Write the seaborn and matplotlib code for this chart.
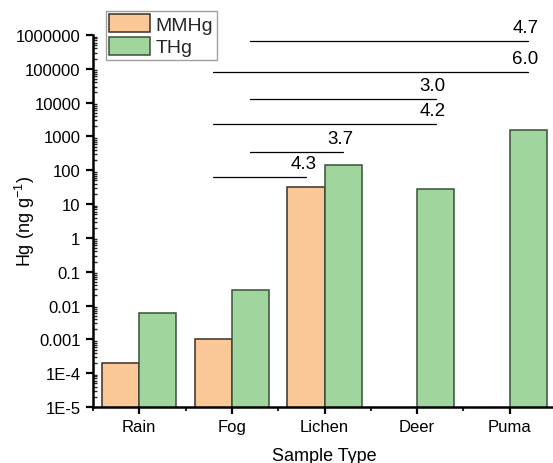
import numpy as np
import pandas as pd
import matplotlib
matplotlib.use('Agg')
import matplotlib.pyplot as plt
import seaborn as sns
from matplotlib.patches import Patch
from matplotlib.ticker import FixedLocator, LogLocator, NullFormatter

# data
samples = ['Rain', 'Fog', 'Lichen', 'Deer', 'Puma']
mmhg = [2.0e-4, 1.0e-3, 31, np.nan, np.nan]
thg = [5.9e-3, 0.029, 142, 28, 1560]
species = ['MMHg', 'THg']
bar_colors = ['#FAC896', '#A0D69E']
edge_colors = ['#3a3026', '#38503a']

ytick_vals = [1e-5, 1e-4, 1e-3, 1e-2, 1e-1, 1, 10, 100, 1000, 1e4, 1e5, 1e6]
ytick_labels = ['1E-5', '1E-4', '0.001', '0.01', '0.1', '1', '10', '100',
                '1000', '10000', '100000', '1000000']

# comparison brackets: (from sample, from species, to sample, to species, height, label)
br_from = [('Fog', 'THg'), ('Fog', 'MMHg'), ('Fog', 'THg'),
           ('Fog', 'MMHg'), ('Fog', 'THg'), ('Fog', 'MMHg')]
br_to = [('Puma', 'THg'), ('Puma', 'THg'), ('Deer', 'THg'),
         ('Deer', 'THg'), ('Lichen', 'THg'), ('Lichen', 'MMHg')]
br_y = [6.8e5, 8.0e4, 1.28e4, 2.3e3, 340, 62]
br_text = ['4.7', '6.0', '3.0', '4.2', '3.7', '4.3']

df = pd.DataFrame({
    'Sample': samples * 2,
    'Species': ['MMHg'] * len(samples) + ['THg'] * len(samples),
    'Hg': mmhg + thg,
}).dropna()

sns.set_theme(style='ticks')
plt.rcParams['font.family'] = ['Liberation Sans', 'DejaVu Sans']
plt.rcParams['mathtext.default'] = 'regular'

fig = plt.figure(figsize=(5.53, 4.64), dpi=100)
ax = fig.add_axes([93 / 553, 56 / 464, 463 / 553, 372 / 464])

sns.barplot(data=df, x='Sample', y='Hg', hue='Species', order=samples,
            hue_order=species, palette=bar_colors, saturation=1,
            errorbar=None, width=0.8, linewidth=1.1, ax=ax, legend=False)

for cont, ec in zip(ax.containers, edge_colors):
    for bar in cont:
        bar.set_edgecolor(ec)

ax.set_yscale('log')
ax.set_ylim(1e-5, 1e6)
ax.set_xlim(-0.5, 4.5)

ax.yaxis.set_major_locator(FixedLocator(ytick_vals))
ax.set_yticklabels(ytick_labels)
ax.yaxis.set_minor_locator(LogLocator(base=10, subs=np.arange(2, 10), numticks=50))
ax.yaxis.set_minor_formatter(NullFormatter())
ax.xaxis.set_minor_locator(FixedLocator([-0.5, 0.5, 1.5, 2.5, 3.5, 4.5]))

ax.tick_params(axis='both', which='major', labelsize=12, colors='black',
               width=1.6, length=5, pad=4, direction='out')
ax.tick_params(axis='y', which='minor', direction='in', length=3, width=1)
ax.tick_params(axis='x', which='minor', direction='out', length=3, width=1.5)

sns.despine(ax=ax)
for s in ['left', 'bottom']:
    ax.spines[s].set_linewidth(1.8)
    ax.spines[s].set_color('black')

ax.set_xlabel('Sample Type', fontsize=13, color='black', labelpad=9)
ax.set_ylabel('Hg (ng g$^{-1}$)', fontsize=13, color='black')
ax.yaxis.set_label_coords(-0.122, 0.5)


def bar_x(sample, sp):
    return samples.index(sample) + (-0.2 if sp == 'MMHg' else 0.2)


for f, t, y, lab in zip(br_from, br_to, br_y, br_text):
    x0, x1 = bar_x(*f), bar_x(*t)
    ax.plot([x0, x1], [y, y], color='black', lw=0.9, clip_on=False)
    ax.annotate(lab, (x1, y), xytext=(-2, 6.5), textcoords='offset points',
                ha='center', va='baseline', fontsize=13.5, color='black',
                annotation_clip=False)

handles = [Patch(facecolor=c, edgecolor=e, linewidth=1.1)
           for c, e in zip(bar_colors, edge_colors)]
leg = ax.legend(handles, species, loc='upper left',
                bbox_to_anchor=(105.7 / 553, 1 - 11.7 / 464),
                bbox_transform=fig.transFigure, borderaxespad=0,
                fontsize=14, frameon=True, fancybox=False, framealpha=1,
                edgecolor='#a0a0a0', handlelength=2.1, handleheight=1.05,
                handletextpad=0.3, labelspacing=0.15, borderpad=0.18)
leg.get_frame().set_linewidth(1.0)

fig.savefig('out.png', dpi=100)
